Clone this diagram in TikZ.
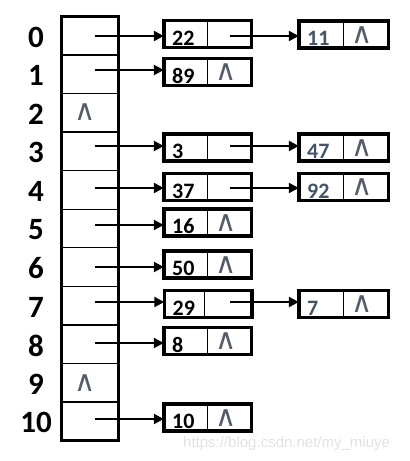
\documentclass[tikz,border=0pt]{standalone}
\usepackage{fontspec}
\setmainfont{Carlito}
\newfontfamily\wmfont{Liberation Sans}
\newfontfamily\symfont{DejaVu Sans}
\usetikzlibrary{arrows.meta}
\definecolor{nodeblue}{RGB}{68,84,106}
\definecolor{nullgray}{RGB}{85,92,105}
\definecolor{wmgray}{RGB}{226,226,226}
\tikzset{
 cell/.style={draw, line width=1.3pt, minimum width=57pt, minimum height=38.545pt, inner sep=0pt, outer sep=0pt},
 tblframe/.style={line width=3pt},
 lbl/.style={font=\fontsize{31}{31}\bfseries\selectfont, inner sep=0pt},
 lnode/.style={draw, line width=3.5pt, minimum width=87.5pt, minimum height=27pt, inner sep=0pt, outer sep=0pt},
 lnodeb/.style={lnode, minimum width=89.5pt},
 divider/.style={line width=1pt},
 num/.style={font=\fontsize{22}{22}\bfseries\selectfont, inner sep=0pt, anchor=base west},
 numb/.style={num, text=nodeblue},
 nul/.style={font=\symfont\fontsize{29}{29}\selectfont, text=nullgray, inner sep=0pt},
 arr/.style={line width=2.8pt, -{Triangle[length=10pt,width=10pt]}},
 wm/.style={font=\wmfont\fontsize{15}{15}\selectfont, text=wmgray, anchor=base west, inner sep=0pt},
}
\newcommand{\nullmark}{∧}
\begin{document}
\begin{tikzpicture}[x=1pt,y=-1pt]
\useasboundingbox (0,0) rectangle (410,461);
% table cells
\node[cell] (c0) at (90,35.77) {};
\node[cell] (c1) at (90,74.32) {};
\node[cell] (c2) at (90,112.86) {};
\node[cell] (c3) at (90,151.41) {};
\node[cell] (c4) at (90,189.95) {};
\node[cell] (c5) at (90,228.50) {};
\node[cell] (c6) at (90,267.04) {};
\node[cell] (c7) at (90,305.59) {};
\node[cell] (c8) at (90,344.13) {};
\node[cell] (c9) at (90,382.68) {};
\node[cell] (c10) at (90,421.23) {};
\draw[tblframe] (c0.north west) rectangle (c10.south east);
% index labels
\node[lbl] (l0) at (36,37.3) {0};
\node[lbl] (l1) at (36,75.8) {1};
\node[lbl] (l2) at (36,114.4) {2};
\node[lbl] (l3) at (36,152.9) {3};
\node[lbl] (l4) at (36,191.5) {4};
\node[lbl] (l5) at (36,230.0) {5};
\node[lbl] (l6) at (36,268.5) {6};
\node[lbl] (l7) at (36,307.1) {7};
\node[lbl] (l8) at (36,345.6) {8};
\node[lbl] (l9) at (36,384.2) {9};
\node[lbl] (l10) at (36,422.7) {10};
% null markers in table
\node[nul] (z2) at (85,112.5) {\nullmark};
\node[nul] (z9) at (85,383) {\nullmark};
% first-column list nodes
\node[lnode] (b0) at (207.5,34) {};
\node[lnode] (b1) at (207.5,72) {};
\node[lnode] (b3) at (207.5,147.5) {};
\node[lnode] (b4) at (207.5,187) {};
\node[lnode] (b5) at (207.5,222.5) {};
\node[lnode] (b6) at (207.5,264.5) {};
\node[lnode] (b7) at (208,304) {};
\node[lnode] (b8) at (207.5,341) {};
\node[lnode] (b10) at (207.5,417.5) {};
\foreach \b in {b0,b1,b3,b4,b5,b6,b8,b10}{\draw[divider] (\b.north) -- (\b.south);}
\draw[divider] ([xshift=-4pt]b7.north) -- ([xshift=-4pt]b7.south);
% second-column list nodes
\node[lnodeb] (d0) at (343.5,34.5) {};
\node[lnodeb] (d3) at (343.5,147.5) {};
\node[lnodeb] (d4) at (343.5,187) {};
\node[lnodeb] (d7) at (343.5,304) {};
\foreach \d in {d0,d3,d4,d7}{\draw[divider] (\d.north) -- (\d.south);}
% values
\node[num] (v0) at ([xshift=8.25pt,yshift=2.5pt]b0.south west) {22};
\node[num] (v1) at ([xshift=8.25pt,yshift=2.5pt]b1.south west) {89};
\node[num] (v3) at ([xshift=8.25pt,yshift=2.5pt]b3.south west) {3};
\node[num] (v4) at ([xshift=8.25pt,yshift=2.5pt]b4.south west) {37};
\node[num] (v5) at ([xshift=8.25pt,yshift=2.5pt]b5.south west) {16};
\node[num] (v6) at ([xshift=8.25pt,yshift=2.5pt]b6.south west) {50};
\node[num] (v7) at ([xshift=8.25pt,yshift=2.5pt]b7.south west) {29};
\node[num] (v8) at ([xshift=8.25pt,yshift=2.5pt]b8.south west) {8};
\node[num] (v10) at ([xshift=8.25pt,yshift=2.5pt]b10.south west) {10};
\node[numb] (w0) at ([xshift=8.25pt,yshift=2.5pt]d0.south west) {11};
\node[numb] (w3) at ([xshift=8.25pt,yshift=2.5pt]d3.south west) {47};
\node[numb] (w4) at ([xshift=8.25pt,yshift=2.5pt]d4.south west) {92};
\node[numb] (w7) at ([xshift=8.25pt,yshift=2.5pt]d7.south west) {7};
% null markers in nodes
\node[nul] (u1) at ([xshift=19pt,yshift=-0.5pt]b1.center) {\nullmark};
\node[nul] (u5) at ([xshift=19pt,yshift=-0.5pt]b5.center) {\nullmark};
\node[nul] (u6) at ([xshift=19pt,yshift=-0.5pt]b6.center) {\nullmark};
\node[nul] (u8) at ([xshift=19pt,yshift=-0.5pt]b8.center) {\nullmark};
\node[nul] (u10) at ([xshift=19pt,yshift=-0.5pt]b10.center) {\nullmark};
\node[nul] (x0) at ([xshift=19pt,yshift=-0.5pt]d0.center) {\nullmark};
\node[nul] (x3) at ([xshift=19pt,yshift=-0.5pt]d3.center) {\nullmark};
\node[nul] (x4) at ([xshift=19pt,yshift=-0.5pt]d4.center) {\nullmark};
\node[nul] (x7) at ([xshift=19pt,yshift=-0.5pt]d7.center) {\nullmark};
% arrow start points
\coordinate (s0) at (95,36);
\coordinate (s1) at (95,70);
\coordinate (s3) at (95,146);
\coordinate (s4) at (95,188);
\coordinate (s5) at (95,225);
\coordinate (s6) at (95,267);
\coordinate (s7) at (95,302);
\coordinate (s8) at (95,343);
\coordinate (s10) at (95,419);
\coordinate (t0) at (230,36);
\coordinate (t3) at (230,146);
\coordinate (t4) at (230,188);
\coordinate (t7) at (230,302);
\foreach \s/\b in {s0/b0,s1/b1,s3/b3,s4/b4,s5/b5,s6/b6,s7/b7,s8/b8,s10/b10,t0/d0,t3/d3,t4/d4,t7/d7}{
  \draw[arr] (\s) -- (\s -| \b.west);
}
% watermark
\node[wm] (wmk) at (183,447.7) {https://blog.csdn.net/my\_miuye};
\end{tikzpicture}
\end{document}
